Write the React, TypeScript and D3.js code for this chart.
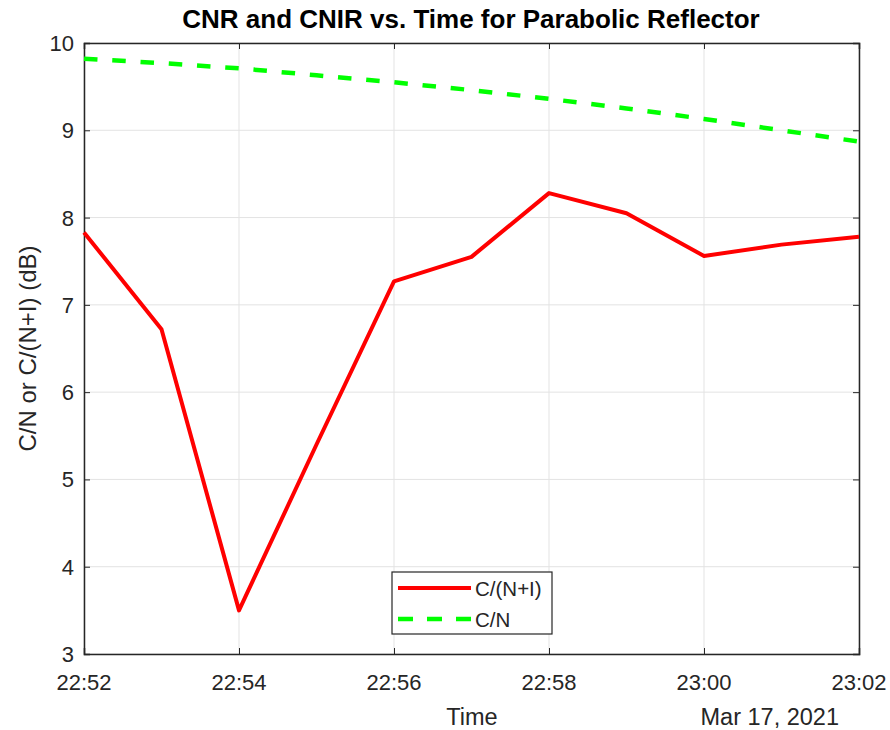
import * as d3 from "d3";
import { useEffect, useRef } from "react";

const times = ["22:52", "22:53", "22:54", "22:55", "22:56", "22:57", "22:58", "22:59", "23:00", "23:01", "23:02"];
const cnir = [7.83, 6.72, 3.5, 5.4, 7.27, 7.55, 8.28, 8.05, 7.56, 7.69, 7.78];
const cn = [9.82, 9.77, 9.71, 9.63, 9.55, 9.46, 9.36, 9.25, 9.13, 9.0, 8.87];
const yTicks = [3, 4, 5, 6, 7, 8, 9, 10];
const seriesNames = ["C/(N+I)", "C/N"];

const parseTime = (t: string) => new Date(2021, 2, 17, +t.split(":")[0], +t.split(":")[1]);

const App = () => {
  const ref = useRef(null);

  useEffect(() => {
    const width = 890, height = 730;
    const margin = { top: 43, right: 31, bottom: 76, left: 84 };
    const font = "Liberation Sans, Arial, sans-serif";
    const axisColor = "#262626";

    d3.select(ref.current).selectAll("*").remove();

    const svg = d3.select(ref.current)
      .append("svg")
      .attr("width", width)
      .attr("height", height)
      .style("position", "absolute")
      .style("left", 0)
      .style("top", 0)
      .style("background", "white");

    const dates = times.map(parseTime);

    const x = d3.scaleTime()
      .domain([dates[0], dates[dates.length - 1]])
      .range([margin.left, width - margin.right]);

    const y = d3.scaleLinear()
      .domain([3, 10])
      .range([height - margin.bottom, margin.top]);

    const xTicks = dates.filter((d, i) => i % 2 === 0);

    // grid
    svg.append("g")
      .selectAll("line.gx")
      .data(xTicks)
      .enter()
      .append("line")
      .attr("x1", d => x(d)).attr("x2", d => x(d))
      .attr("y1", margin.top).attr("y2", height - margin.bottom)
      .attr("stroke", "#e3e3e3").attr("stroke-width", 1);

    svg.append("g")
      .selectAll("line.gy")
      .data(yTicks)
      .enter()
      .append("line")
      .attr("x1", margin.left).attr("x2", width - margin.right)
      .attr("y1", d => y(d)).attr("y2", d => y(d))
      .attr("stroke", "#e3e3e3").attr("stroke-width", 1);

    // axes with inward ticks on all four sides
    const fmt = d3.timeFormat("%H:%M");
    const bottom = svg.append("g")
      .attr("transform", "translate(0," + (height - margin.bottom) + ")")
      .call(d3.axisTop(x).tickValues(xTicks).tickSize(6).tickFormat(() => ""));
    const top = svg.append("g")
      .attr("transform", "translate(0," + margin.top + ")")
      .call(d3.axisBottom(x).tickValues(xTicks).tickSize(6).tickFormat(() => ""));
    const left = svg.append("g")
      .attr("transform", "translate(" + margin.left + ",0)")
      .call(d3.axisRight(y).tickValues(yTicks).tickSize(6).tickFormat(() => ""));
    const right = svg.append("g")
      .attr("transform", "translate(" + (width - margin.right) + ",0)")
      .call(d3.axisLeft(y).tickValues(yTicks).tickSize(6).tickFormat(() => ""));

    [bottom, top, left, right].forEach(g => {
      g.selectAll("path").attr("stroke", axisColor).attr("stroke-width", 1.5);
      g.selectAll("line").attr("stroke", axisColor);
    });

    // tick labels
    svg.append("g")
      .selectAll("text")
      .data(xTicks)
      .enter()
      .append("text")
      .attr("x", d => x(d))
      .attr("y", 690)
      .attr("text-anchor", "middle")
      .attr("font-family", font)
      .attr("font-size", "22px")
      .attr("fill", axisColor)
      .text(d => fmt(d));

    svg.append("g")
      .selectAll("text")
      .data(yTicks)
      .enter()
      .append("text")
      .attr("x", margin.left - 10)
      .attr("y", d => y(d) + 8)
      .attr("text-anchor", "end")
      .attr("font-family", font)
      .attr("font-size", "22px")
      .attr("fill", axisColor)
      .text(d => d);

    // lines
    const line = d3.line<number>()
      .x((d, i) => x(dates[i]))
      .y(d => y(d));

    svg.append("path")
      .datum(cn)
      .attr("d", line)
      .attr("fill", "none")
      .attr("stroke", "#00ff00")
      .attr("stroke-width", 4.5)
      .attr("stroke-dasharray", "13.5,14.8");

    svg.append("path")
      .datum(cnir)
      .attr("d", line)
      .attr("fill", "none")
      .attr("stroke", "#ff0000")
      .attr("stroke-width", 4)
      .attr("stroke-linejoin", "round");

    // labels
    svg.append("text")
      .attr("x", 471)
      .attr("y", 28)
      .attr("text-anchor", "middle")
      .attr("font-family", font)
      .attr("font-weight", "bold")
      .attr("font-size", "26px")
      .attr("fill", "#000")
      .text("CNR and CNIR vs. Time for Parabolic Reflector");

    svg.append("text")
      .attr("x", 472)
      .attr("y", 725)
      .attr("text-anchor", "middle")
      .attr("font-family", font)
      .attr("font-size", "23.5px")
      .attr("fill", axisColor)
      .text("Time");

    svg.append("text")
      .attr("x", 839)
      .attr("y", 725)
      .attr("text-anchor", "end")
      .attr("font-family", font)
      .attr("font-size", "23.5px")
      .attr("fill", axisColor)
      .text("Mar 17, 2021");

    svg.append("text")
      .attr("transform", "translate(36," + ((margin.top + height - margin.bottom) / 2) + ") rotate(-90)")
      .attr("text-anchor", "middle")
      .attr("font-family", font)
      .attr("font-size", "24px")
      .attr("fill", axisColor)
      .text("C/N or C/(N+I) (dB)");

    // legend
    const lg = svg.append("g").attr("transform", "translate(392,572)");
    lg.append("rect")
      .attr("width", 160).attr("height", 62)
      .attr("fill", "white").attr("stroke", axisColor).attr("stroke-width", 1.2);
    const styles = [
      { color: "#ff0000", dash: null, w: 4 },
      { color: "#00ff00", dash: "15,14", w: 4.5 }
    ];
    seriesNames.forEach((name, i) => {
      const yy = 16 + i * 31;
      lg.append("line")
        .attr("x1", 6).attr("x2", 79)
        .attr("y1", yy).attr("y2", yy)
        .attr("stroke", styles[i].color)
        .attr("stroke-width", styles[i].w)
        .attr("stroke-dasharray", styles[i].dash);
      lg.append("text")
        .attr("x", 83).attr("y", yy + 7.5)
        .attr("font-family", font)
        .attr("font-size", "20.5px")
        .attr("fill", axisColor)
        .text(name);
    });
  }, [ref]);

  return <div ref={ref}></div>;
};

export default App;
